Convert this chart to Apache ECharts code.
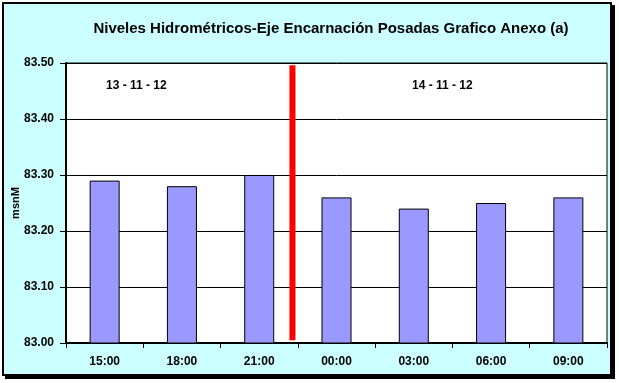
<!DOCTYPE html>
<html><head><meta charset="utf-8">
<script src="https://cdn.jsdelivr.net/npm/echarts@6/dist/echarts.min.js"></script>
<style>
html,body{margin:0;padding:0;background:#fff;}
#frame{position:absolute;left:2px;top:2px;width:606px;height:370px;border:2px solid #000;box-shadow:3px 3px 0 #000;background:#CCFFFF;}
#c{width:606px;height:370px;}
</style></head><body>
<div id="frame"><div id="c"></div></div>
<script>
const categories = ["15:00","18:00","21:00","00:00","03:00","06:00","09:00"];
const levels = [83.29, 83.28, 83.30, 83.26, 83.24, 83.25, 83.26];
const dividerX = [2.43, 2.43];
const dividerY = [83.005, 83.496];
const dayLabels = ["13 - 11 - 12", "14 - 11 - 12"];
const titleText = "Niveles Hidrométricos-Eje Encarnación Posadas Grafico Anexo (a)";
const yName = "msnM";

const chart = echarts.init(document.getElementById('c'), null, {renderer:'canvas'});
const font = 'Liberation Sans, Arial, sans-serif';
chart.setOption({
  animation:false,
  backgroundColor:'#CCFFFF',
  title:{text:titleText,left:322,top:12,textAlign:'center',
    textStyle:{fontFamily:font,fontSize:15,fontWeight:'bold',color:'#000'}},
  grid:{left:62,top:59,right:3,bottom:31,outerBoundsMode:'none',containLabel:false,
    show:true,backgroundColor:'#fff',borderColor:'#000',borderWidth:1},
  xAxis:[{
    type:'category',data:categories,
    axisLine:{onZero:false,lineStyle:{color:'#000',width:2}},
    axisTick:{show:true,inside:false,length:5,lineStyle:{color:'#000'}},
    axisLabel:{fontFamily:font,fontSize:12,fontWeight:'bold',color:'#000',margin:13}
  },{
    type:'value',min:-0.5,max:6.5,show:false,
    splitLine:{show:false},axisLine:{show:false},axisTick:{show:false},axisLabel:{show:false}
  }],
  yAxis:{
    type:'value',min:83.0,max:83.5,interval:0.1,
    name:yName,nameLocation:'middle',nameGap:45,nameRotate:90,nameMoveOverlap:false,
    nameTextStyle:{fontFamily:font,fontSize:11,fontWeight:'bold',color:'#000'},
    axisLine:{show:true,onZero:false,lineStyle:{color:'#000',width:2}},
    axisTick:{show:true,inside:false,length:6,lineStyle:{color:'#000'}},
    axisLabel:{fontFamily:font,fontSize:12,fontWeight:'bold',color:'#000',margin:12,
      formatter:v=>v.toFixed(2)},
    splitLine:{show:true,lineStyle:{color:'#000',width:1}}
  },
  series:[{
    type:'bar',data:levels,barWidth:30,
    itemStyle:{color:'#9999FF',borderColor:'#000',borderWidth:1}
  },{
    type:'line',xAxisIndex:1,data:dividerX.map((x,i)=>[x,dividerY[i]]),
    symbol:'none',lineStyle:{color:'#FF0000',width:6,cap:'butt'}
  }],
  graphic:[
    {type:'text',left:102,top:76,style:{text:dayLabels[0],font:'900 12px '+font,fill:'#000'}},
    {type:'text',left:408,top:76,style:{text:dayLabels[1],font:'900 12px '+font,fill:'#000'}}
  ]
});
</script></body></html>
